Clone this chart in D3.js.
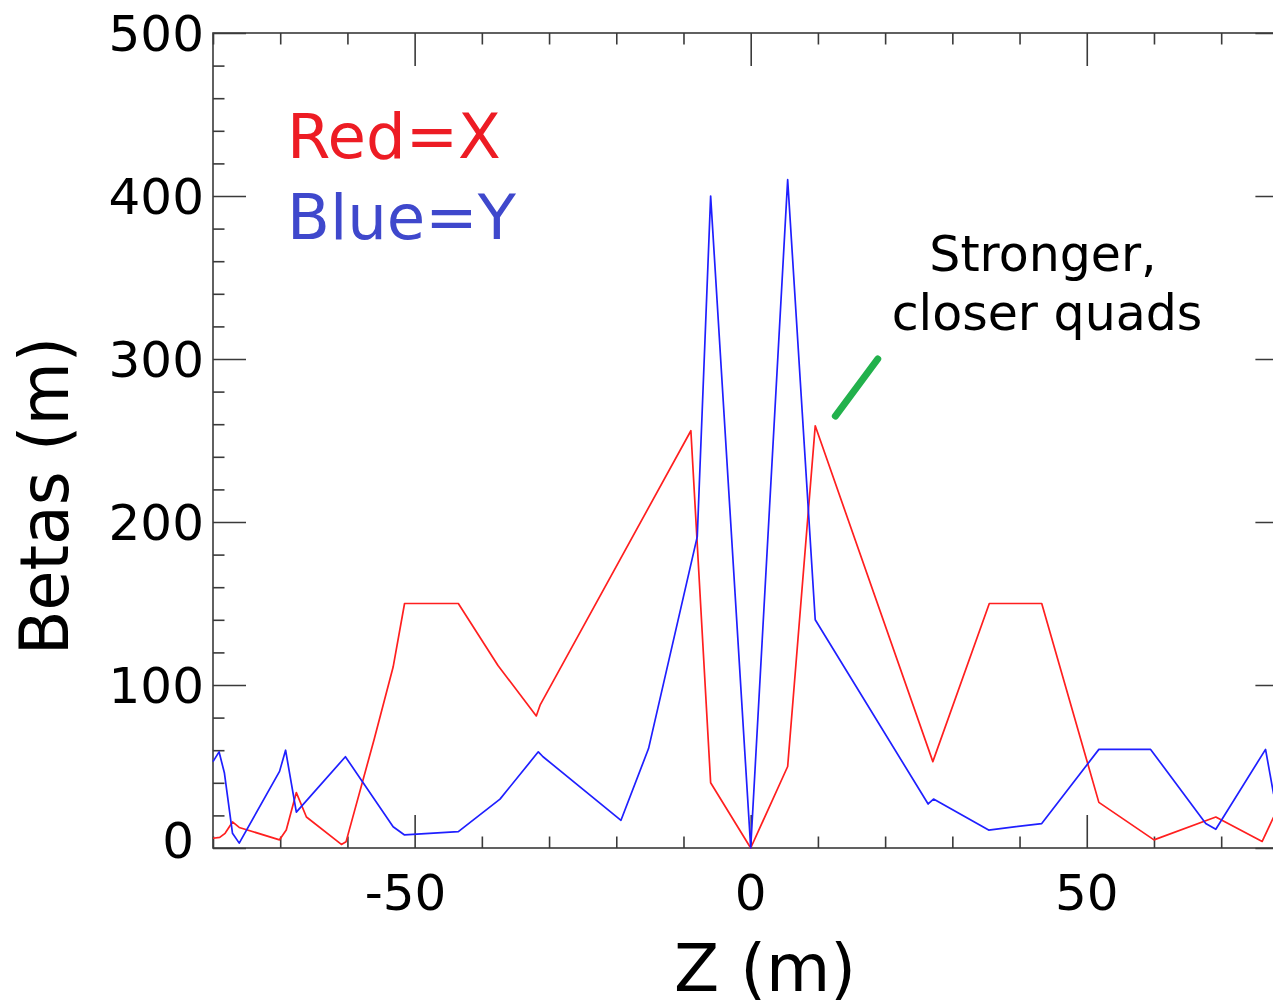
<!DOCTYPE html>
<html>
<head>
<meta charset="utf-8">
<script src="https://cdn.jsdelivr.net/npm/d3@7"></script>
<style>
  html, body { margin: 0; padding: 0; background: #fff; }
  svg { display: block; font-family: "DejaVu Sans", Verdana, sans-serif; }
</style>
</head>
<body>
<svg id="chart" width="1273" height="1008"></svg>
<script>
// Beta functions along the interaction region, Z in metres
const betaX = [
  [-80, 6], [-79, 6.5], [-78.2, 9], [-77.1, 16], [-76.1, 12.6], [-70.1, 5],
  [-69.1, 11], [-67.6, 34], [-66.1, 19], [-60.9, 2.2], [-60.2, 3.9], [-56, 67],
  [-53.2, 111], [-51.5, 150], [-43.5, 150], [-37.6, 112], [-31.9, 81], [-31.3, 88],
  [-8.9, 256], [-5.96, 40], [0, 0], [5.5, 50], [9.6, 259], [27.1, 53],
  [35.5, 150], [43.3, 150], [51.8, 28], [60, 5], [69.2, 19], [76.1, 4], [77.8, 19]
];
const betaY = [
  [-80, 53], [-79.1, 59], [-78.3, 46], [-77.1, 9], [-76.1, 3], [-70.1, 47],
  [-69.2, 60], [-67.6, 22], [-60.3, 56], [-53.2, 13], [-51.5, 8], [-43.5, 10],
  [-37.3, 30], [-31.6, 59], [-30.9, 56], [-19.3, 17], [-15.2, 61], [-7.95, 191],
  [-5.96, 400], [0, 0], [5.5, 410], [9.6, 140], [26.4, 27], [27.2, 30],
  [35.4, 11], [43.3, 15], [51.8, 60.5], [59.5, 60.5], [67.7, 15], [69.2, 11.5],
  [76.6, 60.5], [77.8, 33]
];

// Axis ticks and labels
const xMajorTicks = [-50, 0, 50];
const xMajorLabels = ["-50", "0", "50"];
const xMinorTicks = [-80, -70, -60, -40, -30, -20, -10, 10, 20, 30, 40, 60, 70, 80];
const yMajorTicks = [0, 100, 200, 300, 400, 500];
const yMajorLabels = ["0", "100", "200", "300", "400", "500"];
const yMinorTicks = [20, 40, 60, 80, 120, 140, 160, 180, 220, 240, 260, 280,
                     320, 340, 360, 380, 420, 440, 460, 480];

// Pointer towards the stronger quads (Z, beta)
const pointer = [[12.6, 265], [18.9, 300]];

const svg = d3.select("#chart");
const plotLeft = 213, plotRight = 1288.4, plotTop = 33, plotBottom = 848;
const x = d3.scaleLinear().domain([-80, 80]).range([plotLeft, plotRight]);
const y = d3.scaleLinear().domain([0, 500]).range([plotBottom, plotTop]);

const axisColor = "#3a3a3a";
const majorLen = 33, minorLen = 11.5;

// Frame
svg.append("rect")
  .attr("x", plotLeft).attr("y", plotTop)
  .attr("width", plotRight - plotLeft).attr("height", plotBottom - plotTop)
  .attr("fill", "none").attr("stroke", axisColor).attr("stroke-width", 1.6);

// Tick marks pointing inward on all four sides
function tickGroup(axisFn, scale, values, len, transform) {
  const g = svg.append("g").attr("transform", transform)
    .call(axisFn(scale).tickValues(values).tickSize(-len).tickFormat(""));
  g.select(".domain").remove();
  g.selectAll(".tick line").attr("stroke", axisColor).attr("stroke-width", 1.6);
  return g;
}
tickGroup(d3.axisBottom, x, xMinorTicks, minorLen, `translate(0,${plotBottom})`);
tickGroup(d3.axisBottom, x, xMajorTicks, majorLen, `translate(0,${plotBottom})`);
tickGroup(d3.axisTop, x, xMinorTicks, minorLen, `translate(0,${plotTop})`);
tickGroup(d3.axisTop, x, xMajorTicks, majorLen, `translate(0,${plotTop})`);
tickGroup(d3.axisLeft, y, yMinorTicks, minorLen, `translate(${plotLeft},0)`);
tickGroup(d3.axisLeft, y, yMajorTicks, majorLen, `translate(${plotLeft},0)`);
tickGroup(d3.axisRight, y, yMinorTicks, minorLen, `translate(${plotRight},0)`);
tickGroup(d3.axisRight, y, yMajorTicks, majorLen, `translate(${plotRight},0)`);

// Tick labels
const tickFont = 50;
const digitHalf = 0.318 * tickFont;
svg.append("g").selectAll("text")
  .data(xMajorTicks.map((v, i) => ({ v, label: xMajorLabels[i] })))
  .join("text")
  .attr("x", d => x(d.v) + d.label.replace("-", "").length * digitHalf)
  .attr("y", 910)
  .attr("text-anchor", "end")
  .attr("font-size", tickFont)
  .attr("fill", "#000")
  .text(d => d.label);

svg.append("g").selectAll("text")
  .data(yMajorTicks.map((v, i) => ({ v, label: yMajorLabels[i] })))
  .join("text")
  .attr("x", d => d.v === 0 ? 194 : 204)
  .attr("y", d => d.v === 0 ? y(d.v) + 10 : y(d.v) + 18)
  .attr("text-anchor", "end")
  .attr("font-size", tickFont)
  .attr("fill", "#000")
  .text(d => d.label);

// Axis titles
svg.append("text")
  .attr("x", 765).attr("y", 991)
  .attr("text-anchor", "middle")
  .attr("font-size", 66)
  .attr("fill", "#000")
  .text("Z (m)");

svg.append("text")
  .attr("transform", "translate(68,496) rotate(-90)")
  .attr("text-anchor", "middle")
  .attr("font-size", 68)
  .attr("textLength", 318)
  .attr("lengthAdjust", "spacingAndGlyphs")
  .attr("fill", "#000")
  .text("Betas (m)");

// Curves
const line = d3.line().x(d => x(d[0])).y(d => y(d[1]));
svg.append("path").datum(betaX)
  .attr("d", line)
  .attr("fill", "none").attr("stroke", "#ff1f1f")
  .attr("stroke-width", 1.7).attr("stroke-linejoin", "round");
svg.append("path").datum(betaY)
  .attr("d", line)
  .attr("fill", "none").attr("stroke", "#1f1fff")
  .attr("stroke-width", 1.7).attr("stroke-linejoin", "round");

// Legend text
svg.append("text")
  .attr("x", 287).attr("y", 158)
  .attr("font-size", 62.5).attr("fill", "#ed1c24")
  .text("Red=X");
svg.append("text")
  .attr("x", 287).attr("y", 239)
  .attr("font-size", 62.5).attr("fill", "#3f48cc")
  .text("Blue=Y");

// Annotation
svg.append("text")
  .attr("x", 1043).attr("y", 271)
  .attr("text-anchor", "middle")
  .attr("font-size", 49).attr("fill", "#000")
  .text("Stronger,");
svg.append("text")
  .attr("x", 1047).attr("y", 330)
  .attr("text-anchor", "middle")
  .attr("font-size", 49).attr("fill", "#000")
  .text("closer quads");
svg.append("line")
  .attr("x1", x(pointer[0][0])).attr("y1", y(pointer[0][1]))
  .attr("x2", x(pointer[1][0])).attr("y2", y(pointer[1][1]))
  .attr("stroke", "#22b14c").attr("stroke-width", 7)
  .attr("stroke-linecap", "round");
</script>
</body>
</html>
